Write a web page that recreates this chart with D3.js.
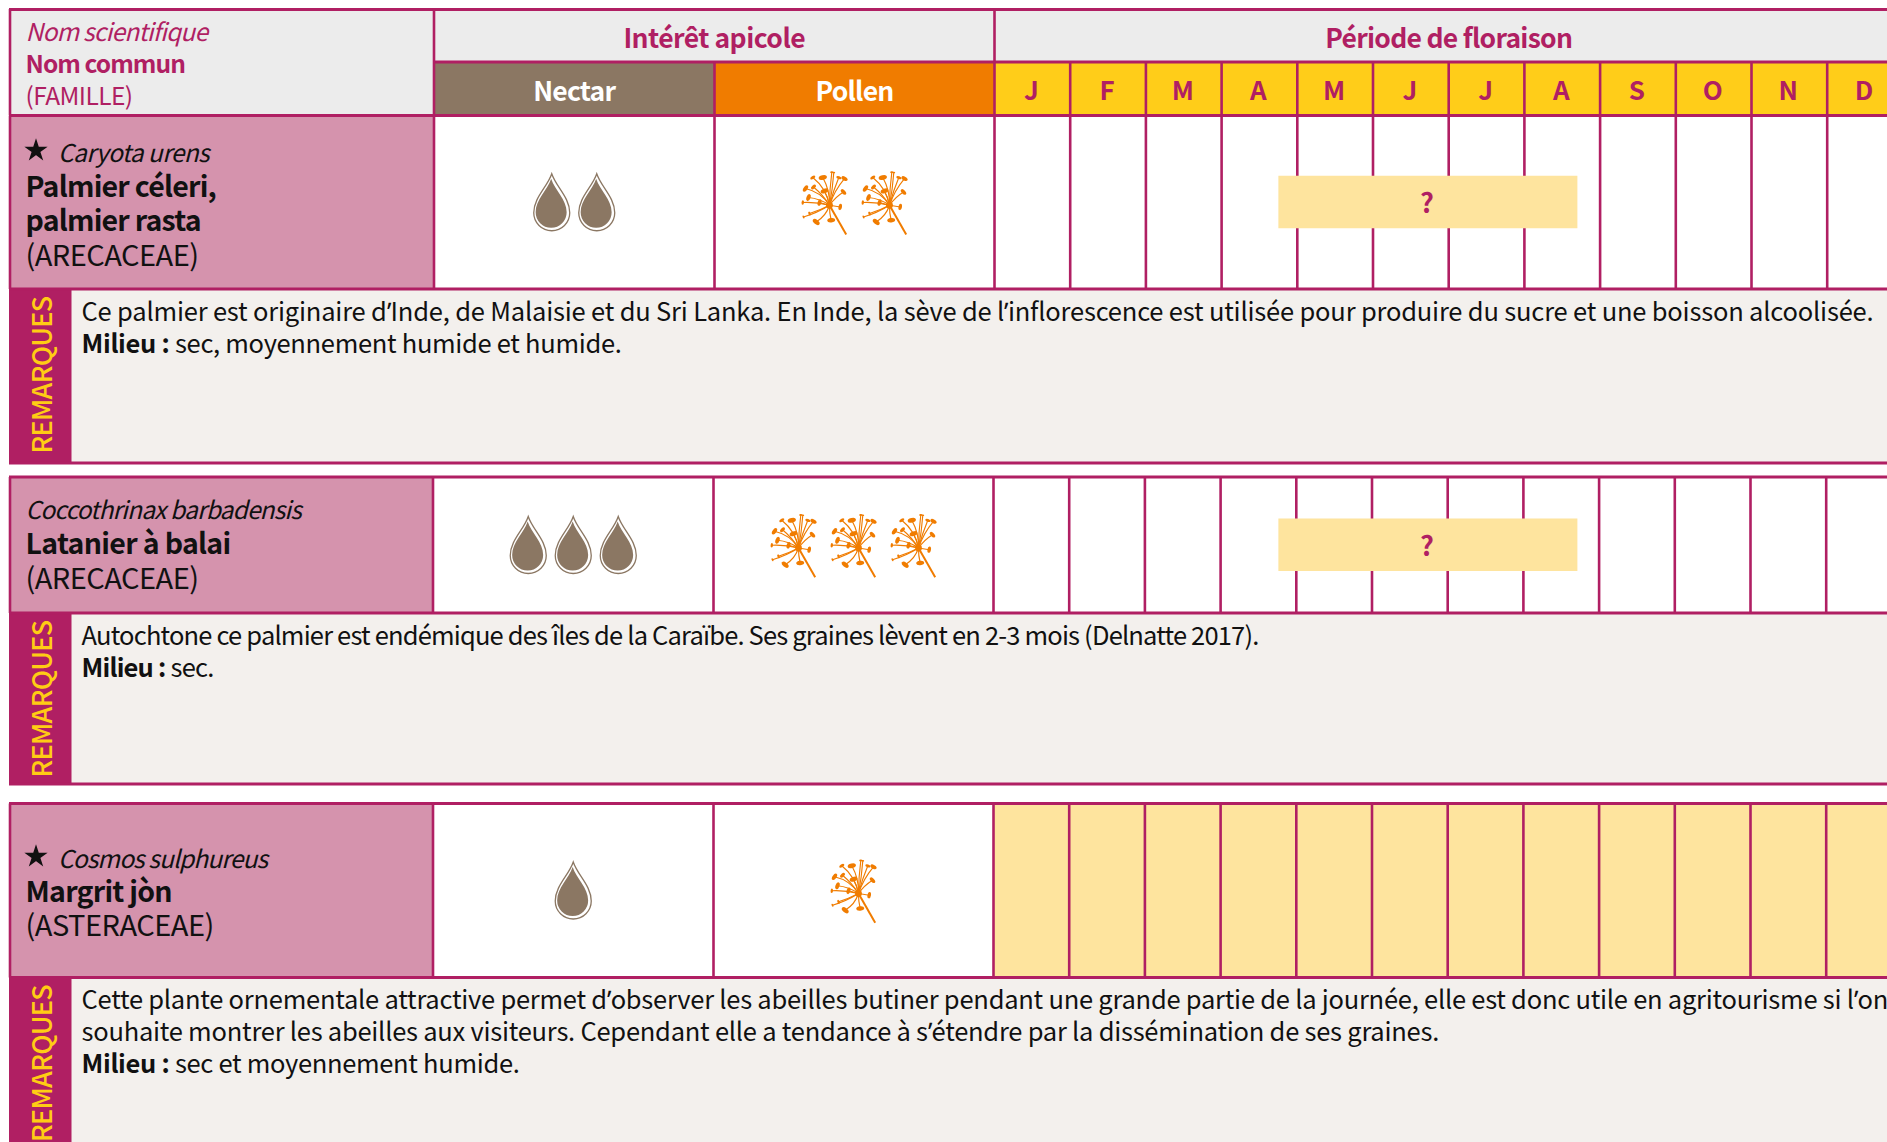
<!DOCTYPE html>
<html>
<head>
<meta charset="utf-8">
<script src="https://cdn.jsdelivr.net/npm/d3@7"></script>
<style>
  /* the CJK font has a full-width apostrophe, take that one glyph from Noto Sans */
  @font-face { font-family: "Apos"; src: local("Noto Sans"), local("NotoSans-Regular"); unicode-range: U+2019; }
  html, body { margin: 0; padding: 0; background: #fff; overflow: hidden; }
  svg { display: block; }
  text { font-family: "Apos", "Noto Sans CJK SC", "Noto Sans", sans-serif; font-feature-settings: "palt"; }
</style>
</head>
<body>
<div id="chart"></div>
<script>
const months = ['J', 'F', 'M', 'A', 'M', 'J', 'J', 'A', 'S', 'O', 'N', 'D'];
const headerLines = ['Nom scientifique', 'Nom commun', '(FAMILLE)'];
const starred = [true, false, true];
const scientificNames = ['Caryota urens', 'Coccothrinax barbadensis', 'Cosmos sulphureus'];
const commonNames = [['Palmier céleri,', 'palmier rasta'], ['Latanier à balai'], ['Margrit jòn']];
const families = ['(ARECACEAE)', '(ARECACEAE)', '(ASTERACEAE)'];
const nectarLevels = [2, 3, 1];
const pollenLevels = [2, 3, 1];
// months are 0-12, the '?' rows only have a rough period
const floweringStart = [3.75, 3.75, 0];
const floweringEnd = [7.7, 7.7, 12];
const floweringUnsure = [true, true, false];
const remarks = [
  ['Ce palmier est originaire d’Inde, de Malaisie et du Sri Lanka. En Inde, la sève de l’inflorescence est utilisée pour produire du sucre et une boisson alcoolisée.'],
  ['Autochtone ce palmier est endémique des îles de la Caraïbe. Ses graines lèvent en 2-3 mois (Delnatte 2017).'],
  ['Cette plante ornementale attractive permet d’observer les abeilles butiner pendant une grande partie de la journée, elle est donc utile en agritourisme si l’on',
   'souhaite montrer les abeilles aux visiteurs. Cependant elle a tendance à s’étendre par la dissémination de ses graines.']
];
const milieux = ['sec, moyennement humide et humide.', 'sec.', 'sec et moyennement humide.'];

const width = 1887, height = 1142;
const magenta = '#b01f63', ink = '#111';

// layout of each row block: top, split between name and remarks, bottom
const rowBoxes = [
  { top: 115.5, mid: 289, bottom: 463, shift: 0, nameY: [161.5, 196.5, 231, 265.5], sciW: 151, nameW: [190.6, 175.4], famW: 173, remarkW: [1792], milieuW: 540 },
  { top: 477, mid: 613, bottom: 784, shift: -1, nameY: [519, 554, 589], sciW: 275.4, nameW: [205], famW: 173, remarkW: [1177], milieuW: 132 },
  { top: 803.5, mid: 977.5, bottom: 1200, shift: -1, nameY: [867.5, 901.5, 936], sciW: 209, nameW: [146.4], famW: 188.4, remarkW: [1806.5, 1357.5], milieuW: 438 }
];
const colName = 434, colNectar = 714.5, colMonths = 994.5;

const monthX = d3.scaleLinear().domain([0, 12]).range([colMonths, colMonths + 12 * 75.7]);

const svg = d3.select('#chart').append('svg')
  .attr('width', width)
  .attr('height', height)
  .attr('viewBox', [0, 0, width, height]);

// squeeze a text to the width it has in the print
const fit = (sel, w) => {
  const node = sel.node();
  const len = node.getComputedTextLength();
  sel.attr('letter-spacing', (w - len) / node.textContent.length);
  return sel;
};

const addText = (parent, x, y, str, size, opts = {}) => {
  const t = parent.append('text')
    .attr('x', x)
    .attr('y', y)
    .attr('font-size', size)
    .attr('font-weight', opts.weight || 400)
    .attr('font-style', opts.italic ? 'italic' : null)
    .attr('text-anchor', opts.anchor || 'start')
    .attr('fill', opts.fill || ink)
    .text(str);
  if (opts.w) fit(t, opts.w);
  return t;
};

const addLine = (parent, x1, y1, x2, y2, w = 2.6) => parent.append('line')
  .attr('x1', x1).attr('y1', y1).attr('x2', x2).attr('y2', y2)
  .attr('stroke', magenta)
  .attr('stroke-width', w);

const addRect = (parent, x, y, w, h, fill) => parent.append('rect')
  .attr('x', x).attr('y', y).attr('width', w).attr('height', h)
  .attr('fill', fill);

// Drop glyph, origin at the middle of its height
const dropPath = (w, h) => {
  const p = d3.path();
  p.moveTo(0, -h / 2);
  p.bezierCurveTo(w * 0.12, -h * 0.27, w / 2, -h * 0.08, w / 2, h / 2 - w / 2);
  p.arc(0, h / 2 - w / 2, w / 2, 0, Math.PI);
  p.bezierCurveTo(-w / 2, -h * 0.08, -w * 0.12, -h * 0.27, 0, -h / 2);
  p.closePath();
  return p.toString();
};

const drawDrop = (sel) => {
  sel.append('path')
    .attr('d', dropPath(36, 57))
    .attr('fill', '#fff')
    .attr('stroke', '#8b7763')
    .attr('stroke-width', 1.3);
  sel.append('path')
    .attr('d', dropPath(31, 49))
    .attr('transform', 'translate(-0.6,1)')
    .attr('fill', '#8b7763');
};

// Pollen glyph: spokes as tip dx, dy, bend, blob size, origin at the hub
const spokes = [
  [2.3, -33, -1, 1.6], [-6.7, -27.7, 4, 4.2], [4.3, -32.7, 1, 1.4], [9.3, -27.7, -1, 2.6], [15, -26.7, -3, 3.4],
  [-16.7, -27.7, 6, 2.8], [14, -13.3, -2, 3.4], [-5, -14.3, 1, 4], [-24, -16.7, 6, 3.6], [-16, -18.3, 2, 3],
  [-21, -7.7, 3, 3.6], [-26.7, -2.7, 2, 2.2], [-10, -2.7, 0, 3.4], [10.7, 1.7, 0, 3.2], [-20, 8.3, -1, 2],
  [-26, 11.7, -2, 1.6], [-13.3, 16.7, -4, 4], [1.7, 15, 1, 4]
];

const drawPollen = (sel) => {
  sel.selectAll('.spoke')
    .data(spokes)
    .enter().append('path')
    .attr('class', 'spoke')
    .attr('fill', 'none')
    .attr('stroke', '#f07c00')
    .attr('stroke-width', 1.15)
    .attr('d', d => {
      const p = d3.path();
      p.moveTo(0, 0);
      const len = Math.hypot(d[0], d[1]);
      p.quadraticCurveTo(d[0] / 2 - d[1] / len * d[2], d[1] / 2 + d[0] / len * d[2], d[0], d[1]);
      return p.toString();
    });
  sel.selectAll('.tip')
    .data(spokes)
    .enter().append('ellipse')
    .attr('class', 'tip')
    .attr('rx', d => d[3])
    .attr('ry', d => d[3] * 0.55)
    .attr('fill', '#f07c00')
    .attr('transform', d => `translate(${d[0]},${d[1]}) rotate(${Math.atan2(d[1], d[0]) * 180 / Math.PI + 90})`);
  sel.append('circle').attr('r', 3.4).attr('fill', '#f07c00');
  sel.append('line')
    .attr('x2', 16.7).attr('y2', 29.3)
    .attr('stroke', '#f07c00')
    .attr('stroke-width', 2);
};

const renderHeader = () => {
  const head = svg.append('g');
  addRect(head, 10, 10, width, 105, '#ececec');
  addRect(head, colName, 62, colNectar - colName, 53, '#8b7763');
  addRect(head, colNectar, 62, colMonths - colNectar, 53, '#f07c00');
  addRect(head, colMonths, 62, width, 53, '#ffcd19');

  addText(head, 25.5, 41, headerLines[0], 24.5, { italic: true, fill: magenta, w: 181.7 });
  addText(head, 25.5, 73, headerLines[1], 24.5, { weight: 600, fill: magenta, w: 159.4 });
  addText(head, 25.5, 105, headerLines[2], 24.5, { fill: magenta, w: 107 });
  addText(head, (colName + colMonths) / 2, 48, 'Intérêt apicole', 26.5, { weight: 600, anchor: 'middle', fill: magenta, w: 181.7 });
  addText(head, monthX(6), 48, 'Période de floraison', 26.5, { weight: 600, anchor: 'middle', fill: magenta, w: 247 });
  addText(head, (colName + colNectar) / 2, 100.5, 'Nectar', 26.5, { weight: 600, anchor: 'middle', fill: '#fff', w: 82 });
  addText(head, (colNectar + colMonths) / 2, 100.5, 'Pollen', 26.5, { weight: 600, anchor: 'middle', fill: '#fff', w: 78 });

  head.selectAll('.month')
    .data(months)
    .enter().append('text')
    .attr('class', 'month')
    .attr('x', (d, i) => monthX(i + 0.5) - 1)
    .attr('y', 100)
    .attr('text-anchor', 'middle')
    .attr('font-size', 26)
    .attr('font-weight', 700)
    .attr('fill', magenta)
    .text(d => d);

  addLine(head, 9, 9.5, width, 9.5, 2.8);
  addLine(head, colName, 62, width, 62, 2.8);
  addLine(head, 10, 9, 10, 115);
  addLine(head, colName, 9, colName, 115);
  addLine(head, colMonths, 9, colMonths, 115);
  addLine(head, colNectar, 62, colNectar, 115);
  head.selectAll('.month-tick')
    .data(d3.range(1, 13))
    .enter().append('line')
    .attr('class', 'month-tick')
    .attr('x1', d => monthX(d)).attr('x2', d => monthX(d))
    .attr('y1', 62).attr('y2', 115)
    .attr('stroke', magenta)
    .attr('stroke-width', 2.6);
};

const renderRows = () => {
  rowBoxes.forEach((box, i) => {
    const g = svg.append('g').attr('class', 'species');
    const cx = box.shift;
    const mid = (box.top + box.mid) / 2;

    addRect(g, 10, box.top, colName - 10 + cx, box.mid - box.top, '#d593ad');
    addRect(g, 71, box.mid, width, box.bottom - box.mid, '#f3f0ed');
    addRect(g, 9, box.mid, 62.5, box.bottom - box.mid + 1, magenta);

    // flowering period
    addRect(g, monthX(floweringStart[i]) + (floweringUnsure[i] ? 0 : cx),
      floweringUnsure[i] ? mid - 26.5 : box.top,
      monthX(floweringEnd[i]) - monthX(floweringStart[i]) + (floweringUnsure[i] ? 0 : 30),
      floweringUnsure[i] ? 52.5 : box.mid - box.top, '#fee49e')
      .attr('class', 'period');

    // month dividers go under the '?' band, over a full cell
    const ticks = g.selectAll('.tick')
      .data(d3.range(0, 13))
      .enter().insert('line', '.period')
      .attr('class', 'tick')
      .attr('x1', d => monthX(d) + cx).attr('x2', d => monthX(d) + cx)
      .attr('y1', box.top).attr('y2', box.mid)
      .attr('stroke', magenta)
      .attr('stroke-width', 2.6);
    if (!floweringUnsure[i]) ticks.raise();

    if (floweringUnsure[i]) {
      addText(g, (monthX(floweringStart[i]) + monthX(floweringEnd[i])) / 2 - 1, mid + 11, '?', 27, { weight: 700, anchor: 'middle', fill: magenta });
    }

    addLine(g, 9, box.top, width, box.top, 2.8);
    addLine(g, 9, box.mid, width, box.mid, 2.8);
    addLine(g, 9, box.bottom, width, box.bottom, 2.8);
    addLine(g, 10, box.top, 10, box.mid);
    addLine(g, colName + cx, box.top, colName + cx, box.mid);
    addLine(g, colNectar + cx, box.top, colNectar + cx, box.mid);

    // names
    let line = 0;
    const nameX = starred[i] ? 58 : 25.5;
    if (starred[i]) {
      g.append('path')
        .attr('d', d3.symbol(d3.symbolStar, 105)())
        .attr('transform', `translate(36,${box.nameY[0] - 11})`)
        .attr('fill', ink)
        .attr('stroke', ink)
        .attr('stroke-width', 1.6);
    }
    addText(g, nameX, box.nameY[line++], scientificNames[i], 24.5, { italic: true, w: box.sciW });
    commonNames[i].forEach((n, k) => addText(g, 25.5, box.nameY[line++], n, 28.5, { weight: 600, w: box.nameW[k] }));
    addText(g, 25.5, box.nameY[line], families[i], 29, { w: box.famW });

    // interest levels
    const nectarCenter = (colName + colNectar) / 2 + cx;
    const pollenCenter = (colNectar + colMonths) / 2 + 5 + cx;
    g.selectAll('.drop')
      .data(d3.range(nectarLevels[i]))
      .enter().append('g')
      .attr('class', 'drop')
      .attr('transform', d => `translate(${nectarCenter + (d - (nectarLevels[i] - 1) / 2) * 45},${mid})`)
      .call(drawDrop);
    g.selectAll('.pollen')
      .data(d3.range(pollenLevels[i]))
      .enter().append('g')
      .attr('class', 'pollen')
      .attr('transform', d => `translate(${pollenCenter + (d - (pollenLevels[i] - 1) / 2) * 60},${mid + 3})`)
      .each(function () { drawPollen(d3.select(this)); });

    // remarks
    const side = g.append('text')
      .attr('transform', `translate(51.7,${box.mid + 7.5}) rotate(-90)`)
      .attr('text-anchor', 'end')
      .attr('font-size', 27)
      .attr('font-weight', 500)
      .attr('fill', '#ffcc14')
      .text('REMARQUES');
    fit(side, 157);

    const lines = remarks[i];
    lines.forEach((t, k) => addText(g, 81.5, box.mid + 31.5 + k * 32, t, 25.5, { w: box.remarkW[k] }));
    const milieu = addText(g, 81.5, box.mid + 31.5 + lines.length * 32, 'Milieu : ', 25.5, { weight: 700 });
    milieu.append('tspan').attr('font-weight', 400).text(milieux[i]);
    fit(milieu, box.milieuW);
  });
};

// measure only once the apostrophe face is in
const renderAll = () => {
  renderHeader();
  renderRows();
};
document.fonts.load('25px "Apos"', '’').then(renderAll, renderAll);
</script>
</body>
</html>
